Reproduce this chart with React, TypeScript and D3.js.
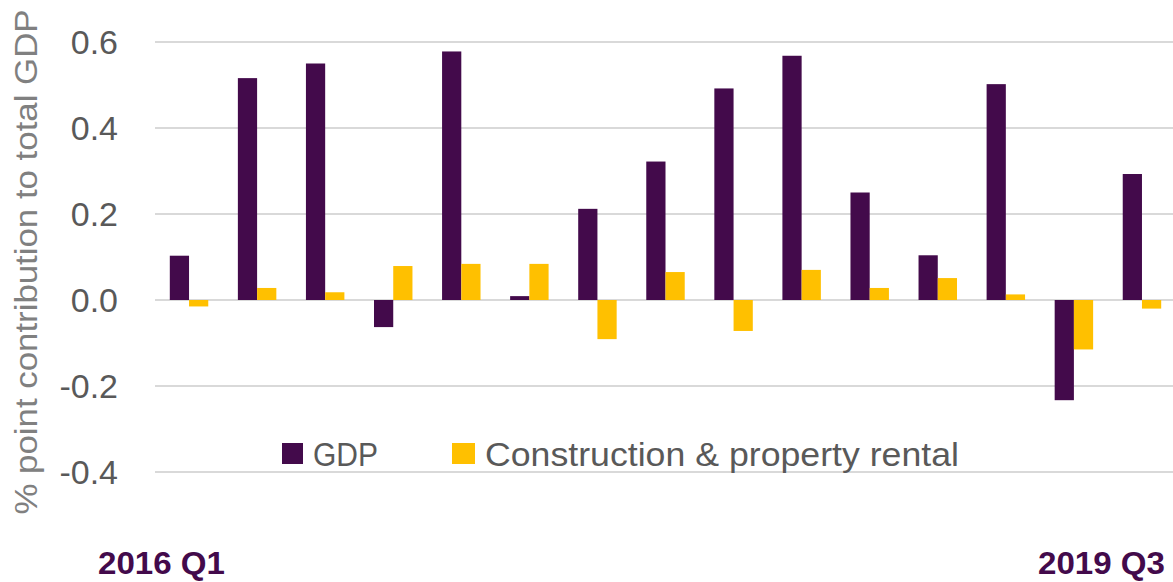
import React from 'react';
import * as d3 from 'd3';

// quarterly contributions, 2016 Q1 .. 2019 Q3
const quarters = ['2016 Q1', '2016 Q2', '2016 Q3', '2016 Q4', '2017 Q1', '2017 Q2', '2017 Q3', '2017 Q4', '2018 Q1', '2018 Q2', '2018 Q3', '2018 Q4', '2019 Q1', '2019 Q2', '2019 Q3'];
const gdpValues = [0.103, 0.516, 0.55, -0.063, 0.578, 0.009, 0.212, 0.322, 0.492, 0.568, 0.25, 0.104, 0.502, -0.233, 0.293];
const constructionValues = [-0.015, 0.028, 0.018, 0.079, 0.084, 0.084, -0.091, 0.065, -0.072, 0.07, 0.028, 0.051, 0.013, -0.115, -0.02];
const yTicks = [-0.4, -0.2, 0, 0.2, 0.4, 0.6];
const seriesNames = ['GDP', 'Construction & property rental'];
const edgeLabels = ['2016 Q1', '2019 Q3'];

const W = 1173;
const H = 582;
const PURPLE = '#430A4B';
const YELLOW = '#FFC000';
const FONT = '"Liberation Sans", Arial, sans-serif';

const App: React.FC = () => {
  const left = 155;
  const right = 1176;
  const y = d3.scaleLinear().domain([-0.4, 0.6]).range([472, 42]);
  const x = d3.scaleBand<string>().domain(quarters).range([left, right]).paddingInner(0.435).paddingOuter(0.2175);
  const x1 = d3.scaleBand<string>().domain(seriesNames).range([0, x.bandwidth()]);
  const colors = d3.scaleOrdinal<string, string>().domain(seriesNames).range([PURPLE, YELLOW]);
  const series = [gdpValues, constructionValues];

  return <svg width={W} height={H} style={{ position: 'absolute', left: 0, top: 0, background: '#fff' }} fontFamily={FONT}>
      {/* gridlines */}
      {yTicks.map(t => <line key={t} x1={left} x2={right} y1={y(t)} y2={y(t)} stroke="#D9D9D9" strokeWidth={2} />)}
      {/* tick labels */}
      {yTicks.map(t => <text key={'l' + t} x={118} y={y(t) + 12} textAnchor="end" fontSize={34} fill="#595959">
          {d3.format('.1f')(t).replace('−', '-')}
        </text>)}
      {/* bars */}
      {quarters.map((q, i) => <g key={q} transform={`translate(${x(q)},0)`}>
          {seriesNames.map((s, k) => {
          const v = series[k][i];
          return <rect key={s} x={x1(s)} width={x1.bandwidth()} y={Math.min(y(v), y(0))} height={Math.abs(y(v) - y(0))} fill={colors(s)} />;
        })}
        </g>)}
      {/* legend */}
      <rect x={282} y={443} width={21} height={21} fill={PURPLE} />
      <text x={313} y={466} fontSize={33} fill="#595959" textLength={65} lengthAdjust="spacingAndGlyphs">{seriesNames[0]}</text>
      <rect x={452} y={443} width={23} height={21} fill={YELLOW} />
      <text x={485} y={466} fontSize={33} fill="#595959" textLength={474} lengthAdjust="spacingAndGlyphs">{seriesNames[1]}</text>
      {/* y axis title */}
      <text transform="translate(37,262) rotate(-90)" textAnchor="middle" fontSize={31} fill="#808080" textLength={505} lengthAdjust="spacingAndGlyphs">
        % point contribution to total GDP
      </text>
      {/* first and last quarter labels */}
      <text x={98} y={574} fontSize={32} fontWeight="bold" fill={PURPLE} textLength={127} lengthAdjust="spacingAndGlyphs">{edgeLabels[0]}</text>
      <text x={1038} y={574} fontSize={32} fontWeight="bold" fill={PURPLE} textLength={127} lengthAdjust="spacingAndGlyphs">{edgeLabels[1]}</text>
    </svg>;
};

export default App;
